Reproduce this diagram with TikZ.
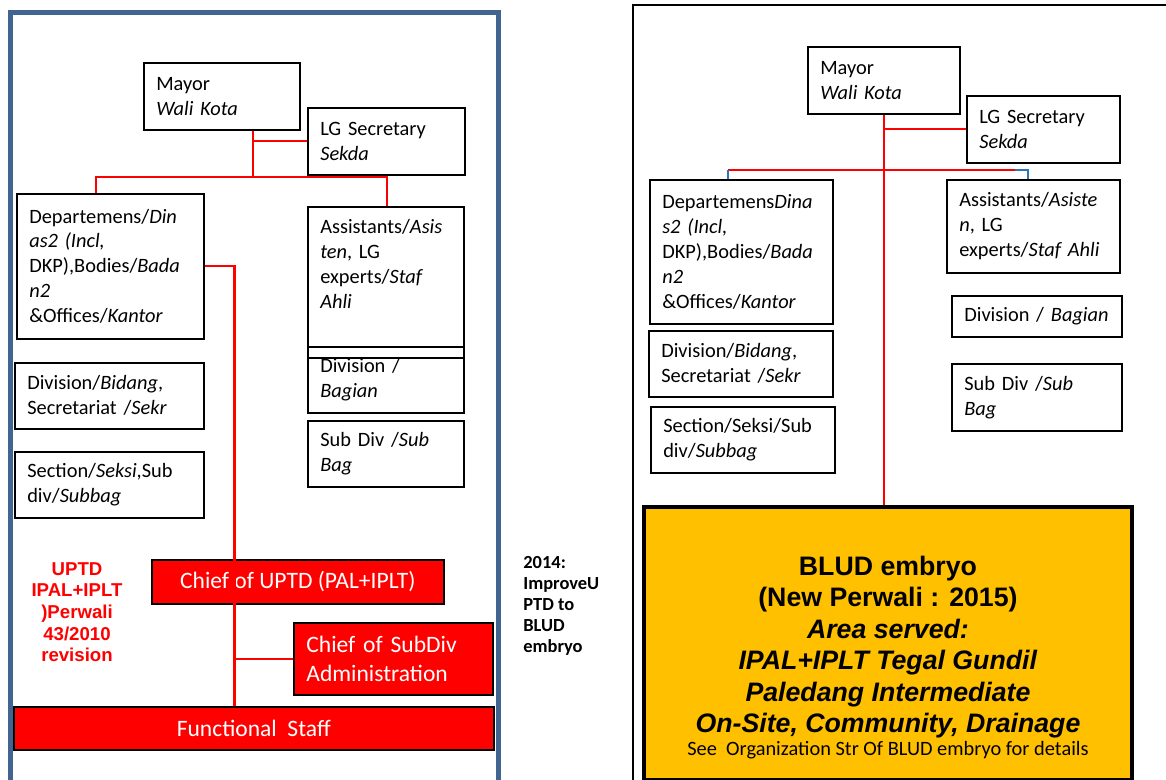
\documentclass[tikz,border=0pt]{standalone}
\usepackage{fontspec}
\setmainfont{Carlito}
\newfontfamily\arialfont{Liberation Sans}
\hyphenpenalty=10000

\definecolor{frameblue}{RGB}{65,100,145}
\definecolor{linkred}{RGB}{255,0,0}
\definecolor{tickblue}{RGB}{46,117,182}
\definecolor{bludgold}{RGB}{255,192,0}

\tikzset{
  orgbox/.style={draw=black, line width=0.9pt, anchor=north west, align=left,
    inner xsep=0.25cm, inner ysep=0pt, font=\fontsize{11.6}{14.2}\selectfont},
  redbox/.style={draw=black, line width=1pt, fill=linkred, text=white, anchor=north west,
    inner xsep=0.25cm, inner ysep=0pt, font=\fontsize{13.4}{16.5}\selectfont},
  link/.style={draw=linkred, line width=1.2pt},
  bluelink/.style={draw=tickblue, line width=1.2pt},
}

\begin{document}
\begin{tikzpicture}[x=0.02cm, y=-0.02cm]
\useasboundingbox (0,0) rectangle (1166,779);

% panel frames
\draw[frameblue, line width=2.8pt] (10.5,12.5) rectangle (498.5,820);
\draw[black, line width=0.8pt] (633,5) rectangle (1200,820);

% left panel: UPTD 2010
\node[orgbox, minimum width=3.12cm, minimum height=1.34cm, text width=2.62cm] (mayorL) at (143,62) {Mayor\\\textit{Wali Kota}};
\node[orgbox, minimum width=3.14cm, minimum height=1.34cm, text width=2.64cm] (sekdaL) at (307,107) {LG Secretary\\\textit{Sekda}};
\node[orgbox, minimum width=3.74cm, minimum height=2.90cm, text width=3.24cm] (dinasL) at (16,193)
  {Departemens/\textit{Din}\\\textit{as2 (Incl,}\\DKP),Bodies/\textit{Bada}\\\textit{n2}\\\&Offices/\textit{Kantor}};
\node[orgbox, minimum width=3.78cm, minimum height=1.32cm, text width=3.28cm] (bidangL) at (14,362) {Division/\textit{Bidang},\\Secretariat /\textit{Sekr}};
\node[orgbox, minimum width=3.78cm, minimum height=1.32cm, text width=3.28cm] (seksiL) at (14,451) {Section/\textit{Seksi},Sub\\div/\textit{Subbag}};
\node[orgbox, minimum width=3.12cm, minimum height=3.02cm, text width=2.62cm, text depth=2.24cm] (asistenL) at (307,206)
  {Assistants/\textit{Asis}\\\textit{ten}, LG\\experts/\textit{Staf}\\\textit{Ahli}};
\node[orgbox, minimum width=3.12cm, minimum height=1.32cm, text width=2.62cm] (bagianL) at (307,346) {Division /\\\textit{Bagian}};
\node[orgbox, minimum width=3.12cm, minimum height=1.32cm, text width=2.62cm] (subbagL) at (307,420) {Sub Div /\textit{Sub}\\\textit{Bag}};

\node[redbox, minimum width=5.84cm, minimum height=0.88cm, align=center] (chiefL) at (151,559) {Chief of UPTD (PAL+IPLT)};
\node[redbox, minimum width=3.98cm, minimum height=1.44cm, text width=3.48cm, align=left] (subdivL) at (293,622) {Chief of SubDiv\\Administration};
\node[redbox, minimum width=9.6cm, minimum height=0.86cm, align=center] (staffL) at (13,706) {Functional\ \ Staff};

\node[anchor=north, align=center, inner sep=0pt, text=linkred,
  font=\arialfont\bfseries\fontsize{10.6}{12.3}\selectfont] (uptdnote) at (77,562)
  {UPTD\\IPAL+IPLT\\)Perwali\\43/2010\\revision};

\coordinate (busL) at (253,177);
\coordinate (busLl) at (96,177);
\coordinate (busLr) at (387,177);
\draw[link] (busL |- mayorL.south) -- (busL);
\draw[link] (busL |- sekdaL.west) -- (sekdaL.west);
\draw[link] (busLl |- dinasL.north) -- (busLl) -- (busLr) -- (busLr |- asistenL.north);
\draw[link] (dinasL.east) -- ++(30,0) coordinate (elbowL) -- (elbowL |- staffL.north);
\draw[link] (elbowL |- subdivL.west) -- (subdivL.west);

% middle note
\node[anchor=north west, align=left, inner sep=0pt, font=\bfseries\fontsize{10.5}{12}\selectfont] (note2014) at (523,556)
  {2014:\\ImproveU\\PTD to\\BLUD\\embryo};

% right panel: BLUD embryo
\node[orgbox, minimum width=3.04cm, minimum height=1.34cm, text width=2.54cm] (mayorR) at (807,46) {Mayor\\\textit{Wali Kota}};
\node[orgbox, minimum width=3.06cm, minimum height=1.34cm, text width=2.56cm] (sekdaR) at (966,95) {LG Secretary\\\textit{Sekda}};
\node[orgbox, minimum width=3.66cm, minimum height=2.88cm, text width=3.16cm] (dinasR) at (649,179)
  {Departemens\textit{Dina}\\\textit{s2 (Incl,}\\DKP),Bodies/\textit{Bada}\\\textit{n2}\\\&Offices/\textit{Kantor}};
\node[orgbox, minimum width=3.68cm, minimum height=1.32cm, text width=3.18cm] (bidangR) at (648,330) {Division/\textit{Bidang},\\Secretariat /\textit{Sekr}};
\node[orgbox, minimum width=3.68cm, minimum height=1.32cm, text width=3.18cm] (seksiR) at (650,406) {Section/Seksi/Sub\\div/\textit{Subbag}};
\node[orgbox, minimum width=3.46cm, minimum height=1.86cm, text width=2.96cm] (asistenR) at (946,179)
  {Assistants/\textit{Asiste}\\\textit{n}, LG\\experts/\textit{Staf~Ahli}};
\node[orgbox, minimum width=3.40cm, minimum height=0.82cm, text width=2.90cm] (bagianR) at (951,295) {Division~/~\textit{Bagian}};
\node[orgbox, minimum width=3.40cm, minimum height=1.34cm, text width=2.90cm] (subbagR) at (951,363) {Sub Div /\textit{Sub}\\\textit{Bag}};

\node[draw=black, line width=2.3pt, fill=bludgold, anchor=north west, minimum width=9.76cm, minimum height=5.46cm,
  align=center, text height=4.56cm, font=\arialfont\bfseries\fontsize{15.2}{17.9}\selectfont] (bludR) at (642,505)
  {BLUD embryo\\(New Perwali : 2015)\\\textit{Area served:}\\\textit{IPAL+IPLT Tegal Gundil}\\\textit{Paledang Intermediate}\\
   \textit{On-Site, Community, Drainage}\\[-4.8pt]
   {\normalfont\fontsize{11.6}{13}\selectfont See\ \ Organization Str Of BLUD embryo for details}};

\coordinate (busRl) at (728,170);
\coordinate (busRm) at (1015,170);
\coordinate (busRr) at (1028,170);
\draw[link] (mayorR.south) -- (mayorR.south |- bludR.north);
\draw[link] (mayorR.south |- sekdaR.west) -- (sekdaR.west);
\draw[link] (busRl) -- (busRm);
\draw[bluelink] (busRl) -- (busRl |- dinasR.north);
\draw[bluelink] (busRm) -- (busRr) -- (busRr |- asistenR.north);
\end{tikzpicture}
\end{document}
